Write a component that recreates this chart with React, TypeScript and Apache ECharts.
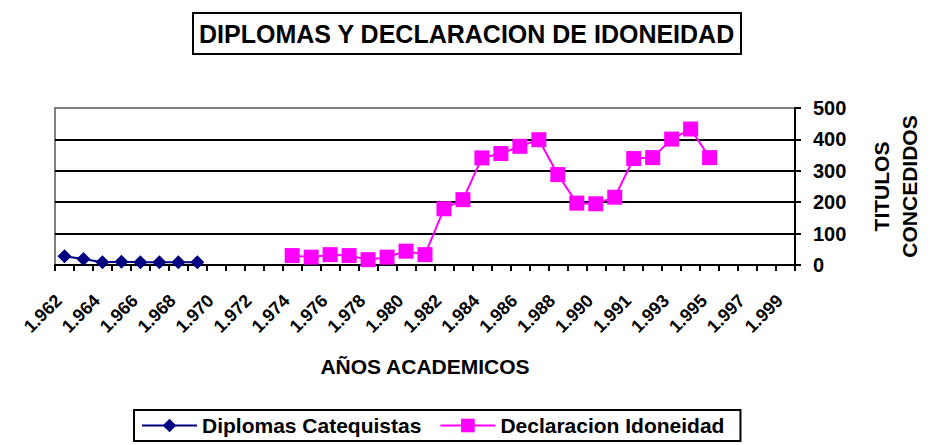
import React, { useEffect, useRef } from "react";
import * as echarts from "echarts";

const categories = [
  "1.962", "1.963", "1.964", "1.965", "1.966", "1.967", "1.968", "1.969", "1.970", "1.971",
  "1.972", "1.973", "1.974", "1.975", "1.976", "1.977", "1.978", "1.979", "1.980", "1.981",
  "1.982", "1.983", "1.984", "1.985", "1.986", "1.987", "1.988", "1.989", "1.990", "1.990",
  "1.991", "1.992", "1.993", "1.994", "1.995", "1.996", "1.997", "1.998", "1.999",
];

const diplomasCatequistas: (number | null)[] = [
  28, 19, 9, 10, 9, 9, 9, 9, null, null,
  null, null, null, null, null, null, null, null, null, null,
  null, null, null, null, null, null, null, null, null, null,
  null, null, null, null, null, null, null, null, null,
];

const declaracionIdoneidad: (number | null)[] = [
  null, null, null, null, null, null, null, null, null, null,
  null, null, 30, 25, 33, 30, 17, 25, 44, 33,
  179, 208, 341, 355, 378, 399, 288, 197, 195, 216,
  339, 342, 401, 433, 342, null, null, null, null,
];

const yTicks = { min: 0, max: 500, interval: 100 };

const FONT = "Arial, 'Liberation Sans', sans-serif";

export default function App() {
  const ref = useRef<HTMLDivElement>(null);
  useEffect(() => {
    if (!ref.current) return;
    const chart = echarts.init(ref.current, null, { renderer: "svg" });
    chart.setOption({
      animation: false,
      backgroundColor: "#ffffff",
      title: {
        text: "DIPLOMAS Y DECLARACION DE IDONEIDAD",
        left: 193,
        top: 13,
        borderColor: "#000",
        borderWidth: 2,
        padding: [8, 6],
        textStyle: { fontSize: 25, fontWeight: "bold", fontFamily: FONT, color: "#000" },
      },
      legend: {
        left: 134,
        bottom: 4,
        borderColor: "#000",
        borderWidth: 2,
        padding: [5, 16, 5, 7],
        itemWidth: 55,
        itemHeight: 17,
        itemGap: 18,
        textStyle: { fontSize: 21, fontWeight: "bold", fontFamily: FONT, color: "#000" },
        data: ["Diplomas Catequistas", "Declaracion Idoneidad"],
      },
      grid: {
        left: 55,
        right: 113,
        top: 108,
        bottom: 180,
        show: true,
        borderColor: "#808080",
        borderWidth: 2,
      },
      xAxis: {
        type: "category",
        data: categories,
        boundaryGap: true,
        axisLine: { show: true, lineStyle: { color: "#000", width: 2 } },
        axisTick: { show: true, interval: 0, length: 6, lineStyle: { color: "#000", width: 2 } },
        axisLabel: {
          interval: 1,
          rotate: 45,
          margin: 27,
          padding: [0, 8, 0, 0],
          fontSize: 18,
          fontWeight: "bold",
          fontFamily: FONT,
          color: "#000",
        },
        splitLine: { show: false },
        name: "AÑOS ACADEMICOS",
        nameLocation: "middle",
        nameGap: 91,
        nameTextStyle: { fontSize: 21, fontWeight: "bold", fontFamily: FONT, color: "#000" },
      },
      yAxis: {
        type: "value",
        position: "right",
        min: yTicks.min,
        max: yTicks.max,
        interval: yTicks.interval,
        axisLine: { show: true, lineStyle: { color: "#000", width: 2 } },
        axisTick: { show: true, length: 6, lineStyle: { color: "#000", width: 2 } },
        axisLabel: { margin: 18, fontSize: 20, fontWeight: "bold", fontFamily: FONT, color: "#000" },
        splitLine: {
          show: true,
          lineStyle: { color: ["#000", "#000", "#000", "#000", "#000", "#808080"], width: 2 },
        },
        name: "TITULOS\nCONCEDIDOS",
        nameLocation: "middle",
        nameRotate: 90,
        nameGap: 72,
        nameTextStyle: { fontSize: 21, fontWeight: "bold", fontFamily: FONT, color: "#000", lineHeight: 28 },
      },
      series: [
        {
          name: "Diplomas Catequistas",
          type: "line",
          data: diplomasCatequistas,
          symbol: "diamond",
          symbolSize: 14,
          showAllSymbol: true,
          connectNulls: false,
          itemStyle: { color: "#000080" },
          lineStyle: { color: "#000080", width: 2 },
        },
        {
          name: "Declaracion Idoneidad",
          type: "line",
          data: declaracionIdoneidad,
          symbol: "rect",
          symbolSize: 15,
          showAllSymbol: true,
          connectNulls: false,
          itemStyle: { color: "#FF00FF" },
          lineStyle: { color: "#FF00FF", width: 2 },
        },
      ],
    });
    return () => chart.dispose();
  }, []);
  return (
    <div
      ref={ref}
      style={{ position: "fixed", left: 0, top: 0, width: 931, height: 445, background: "#fff" }}
    />
  );
}
